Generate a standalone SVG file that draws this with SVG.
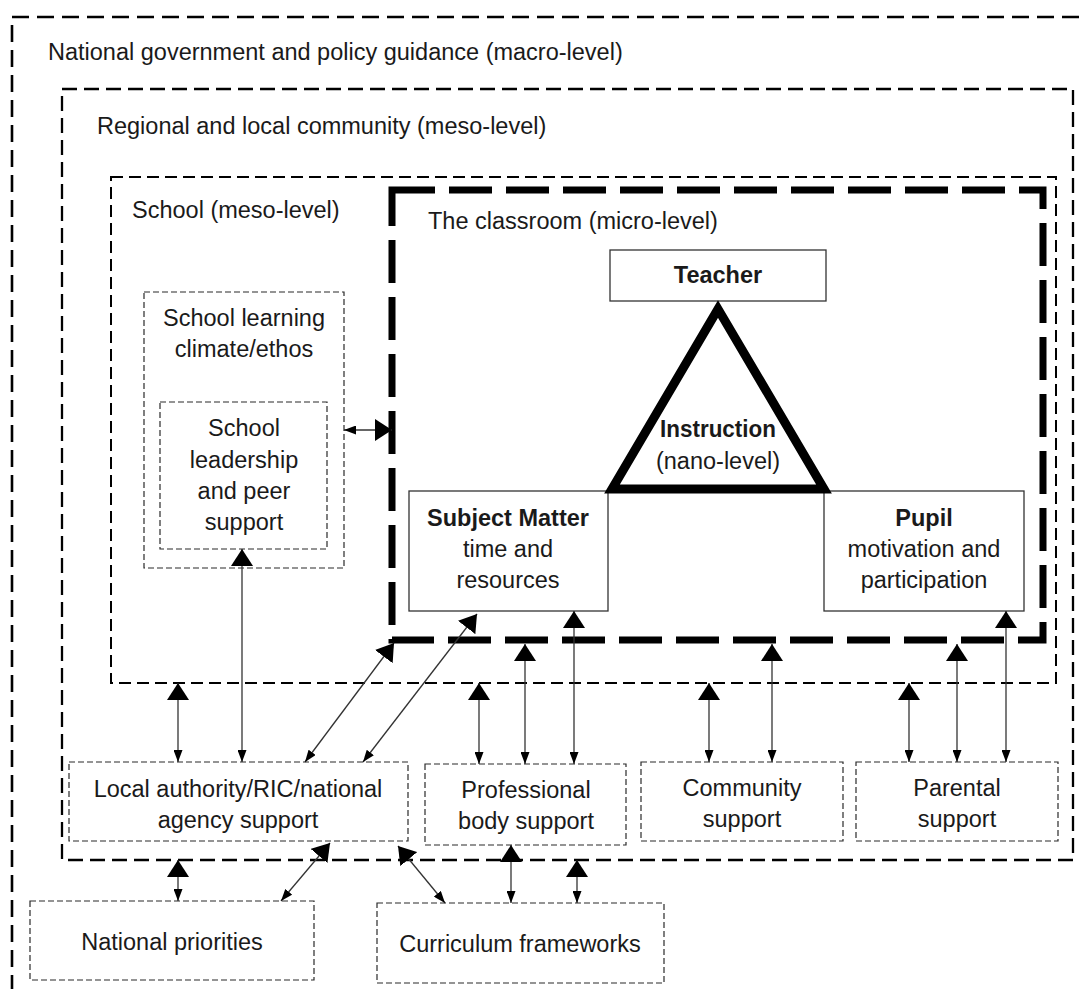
<svg xmlns="http://www.w3.org/2000/svg" width="1081" height="989" viewBox="0 0 1081 989">
  <defs>
    <!-- large filled head used at the upper end of each connector -->
    <marker id="big" markerUnits="userSpaceOnUse" markerWidth="17" markerHeight="22" viewBox="0 0 17 22" refX="17" refY="11" orient="auto-start-reverse">
      <path d="M0,0 L17,11 L0,22 z" fill="#000"/>
    </marker>
    <!-- small head used at the lower end -->
    <marker id="small" markerUnits="userSpaceOnUse" markerWidth="12" markerHeight="9" viewBox="0 0 12 9" refX="12" refY="4.5" orient="auto">
      <path d="M0,0 L12,4.5 L0,9 z" fill="#000"/>
    </marker>
  </defs>
  <style>
    text { font-family: "Liberation Sans", Arial, sans-serif; font-size: 23.5px; fill: #1a1a1a; }
    .c { text-anchor: middle; }
    .b { font-weight: bold; }
    .level { fill: none; stroke: #000; }
    .macro { stroke-width: 2.6; stroke-dasharray: 17 8; }
    .meso1 { stroke-width: 2.3; stroke-dasharray: 15 7; }
    .meso2 { stroke-width: 2; stroke-dasharray: 12 6; }
    .micro { stroke-width: 7; stroke-dasharray: 43 14; }
    .dbox { fill: #fff; stroke: #2a2a2a; stroke-width: 1.2; stroke-dasharray: 6 3; }
    .sbox { fill: #fff; stroke: #333; stroke-width: 1.3; }
    .conn path { fill: none; stroke: #333; stroke-width: 1.3; marker-start: url(#big); marker-end: url(#small); }
  </style>
  <rect width="1081" height="989" fill="#fff"/>

  <!-- nested levels -->
  <g id="macro">
    <rect class="level macro" x="12" y="17" width="1100" height="1000"/>
    <text x="48" y="60">National government and policy guidance (macro-level)</text>
  </g>
  <g id="regional">
    <rect class="level meso1" x="62" y="89" width="1011" height="771"/>
    <text x="97" y="134">Regional and local community (meso-level)</text>
  </g>
  <g id="school">
    <rect class="level meso2" x="111" y="177" width="945" height="506"/>
    <text x="132" y="218">School (meso-level)</text>
  </g>
  <g id="classroom">
    <path class="level micro" d="M392,190 H1043 V640 H392 Z"/>
    <text x="428" y="229">The classroom (micro-level)</text>
  </g>

  <!-- school-level boxes -->
  <g id="climate">
    <rect class="dbox" x="144" y="292" width="200" height="276"/>
    <text class="c" x="244" y="326">School learning</text>
    <text class="c" x="244" y="357">climate/ethos</text>
  </g>
  <g id="leadership">
    <rect class="dbox" x="160" y="402" width="167" height="147"/>
    <text class="c" x="244" y="436">School</text>
    <text class="c" x="244" y="468">leadership</text>
    <text class="c" x="244" y="499">and peer</text>
    <text class="c" x="244" y="530">support</text>
  </g>

  <!-- instructional triangle -->
  <g id="teacher">
    <rect class="sbox" x="610" y="250" width="216" height="51"/>
    <text class="c b" x="718" y="283">Teacher</text>
  </g>
  <g id="subject">
    <rect class="sbox" x="409" y="491" width="199" height="120"/>
    <text class="c b" x="508" y="526">Subject Matter</text>
    <text class="c" x="508" y="557">time and</text>
    <text class="c" x="508" y="588">resources</text>
  </g>
  <g id="pupil">
    <rect class="sbox" x="824" y="491" width="200" height="120"/>
    <text class="c b" x="924" y="526">Pupil</text>
    <text class="c" x="924" y="557">motivation and</text>
    <text class="c" x="924" y="588">participation</text>
  </g>
  <g id="instruction">
    <path d="M718,309 L612,489 L824,489 Z" fill="none" stroke="#000" stroke-width="9" stroke-linejoin="miter"/>
    <text class="c b" x="718" y="437" textLength="116" lengthAdjust="spacingAndGlyphs">Instruction</text>
    <text class="c" x="718" y="469">(nano-level)</text>
  </g>

  <!-- support boxes -->
  <g id="local-authority">
    <rect class="dbox" x="69" y="762" width="339" height="79"/>
    <text class="c" x="238" y="797">Local authority/RIC/national</text>
    <text class="c" x="238" y="828">agency support</text>
  </g>
  <g id="professional">
    <rect class="dbox" x="425" y="764" width="201" height="81"/>
    <text class="c" x="526" y="798">Professional</text>
    <text class="c" x="526" y="829">body support</text>
  </g>
  <g id="community">
    <rect class="dbox" x="641" y="762" width="202" height="79"/>
    <text class="c" x="742" y="796">Community</text>
    <text class="c" x="742" y="827">support</text>
  </g>
  <g id="parental">
    <rect class="dbox" x="856" y="762" width="202" height="79"/>
    <text class="c" x="957" y="796">Parental</text>
    <text class="c" x="957" y="827">support</text>
  </g>
  <g id="national-priorities">
    <rect class="dbox" x="30" y="901" width="284" height="79"/>
    <text class="c" x="172" y="950">National priorities</text>
  </g>
  <g id="curriculum">
    <rect class="dbox" x="377" y="903" width="287" height="80"/>
    <text class="c" x="520" y="952">Curriculum frameworks</text>
  </g>

  <!-- connectors: large head at the upper end, small head at the lower end -->
  <g id="connectors" class="conn">
    <path d="M392,430 L344,430"/>
    <path d="M178,683 L178,762"/>
    <path d="M242,549 L242,762"/>
    <path d="M394,643 L305,762"/>
    <path d="M477,614 L363,762"/>
    <path d="M479,683 L479,764"/>
    <path d="M525,644 L525,764"/>
    <path d="M574,611 L574,764"/>
    <path d="M709,683 L709,762"/>
    <path d="M772,644 L772,762"/>
    <path d="M909,683 L909,762"/>
    <path d="M957,644 L957,762"/>
    <path d="M1006,611 L1006,762"/>
    <path d="M178,860 L178,901"/>
    <path d="M330,843 L281,901"/>
    <path d="M398,846 L445,903"/>
    <path d="M511,845 L511,903"/>
    <path d="M577,860 L577,903"/>
  </g>
</svg>
